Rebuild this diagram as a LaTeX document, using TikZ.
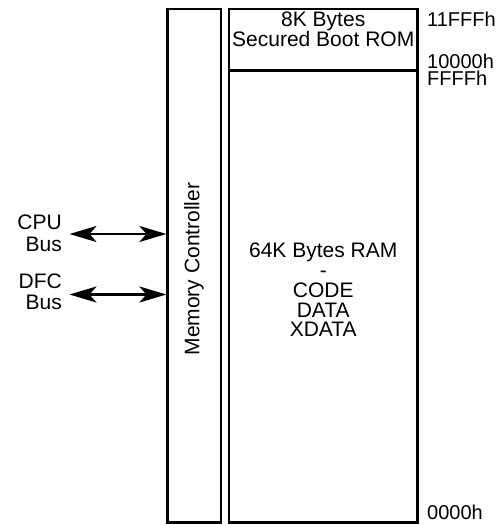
\documentclass[tikz,border=0pt]{standalone}
\usepackage{fontspec}
\setmainfont{Liberation Sans}
\usetikzlibrary{arrows.meta}
\begin{document}
\begin{tikzpicture}[x=1pt,y=-1pt,
  box/.style={draw,line width=2.2pt},
  lbl/.style={font=\fontsize{21}{19.8}\selectfont,inner sep=0pt},
  addr/.style={font=\fontsize{20}{19}\selectfont,inner sep=0pt,anchor=west,text height=14pt,text depth=0pt},
  bus/.style={line width=2.6pt,arrows={Stealth[length=27pt,width=16pt,inset=7pt]-Stealth[length=27pt,width=16pt,inset=7pt]}}]
\useasboundingbox (0,0) rectangle (501,525);
\node[box,minimum width=53.5pt,minimum height=513.5pt,inner sep=0pt] (mc) at (194.25,265.75) {};
\node[lbl,rotate=90] (mct) at (194,269) {Memory Controller};
\node[box,minimum width=188.5pt,minimum height=513.5pt,inner sep=0pt] (mem) at (323.25,265.75) {};
\coordinate (dl) at (229,70.5);
\coordinate (dr) at (417.5,70.5);
\draw[line width=2.2pt] (dl) -- (dr);
\node[lbl,align=center] (rom) at (323.25,29) {8K Bytes\\Secured Boot ROM};
\node[lbl,align=center] (ram) at (323.25,290) {64K Bytes RAM\\-\\CODE\\DATA\\XDATA};
\node[addr] (a1) at (427,19.5) {11FFFh};
\node[addr] (a2) at (427,61.3) {10000h};
\node[addr] (a3) at (427,78.3) {FFFFh};
\node[addr] (a4) at (427,512) {0000h};
\node[lbl,align=right,anchor=east,font=\fontsize{21}{21.5}\selectfont] (cpu) at (62,233.5) {CPU\\Bus};
\node[lbl,align=right,anchor=east,font=\fontsize{21}{21.5}\selectfont] (dfc) at (62,292) {DFC\\Bus};
\coordinate (c1) at (69.5,234);
\coordinate (c2) at (69.5,294.5);
\draw[bus] (c1) -- (c1 -| mc.west);
\draw[bus] (c2) -- (c2 -| mc.west);
\end{tikzpicture}
\end{document}
